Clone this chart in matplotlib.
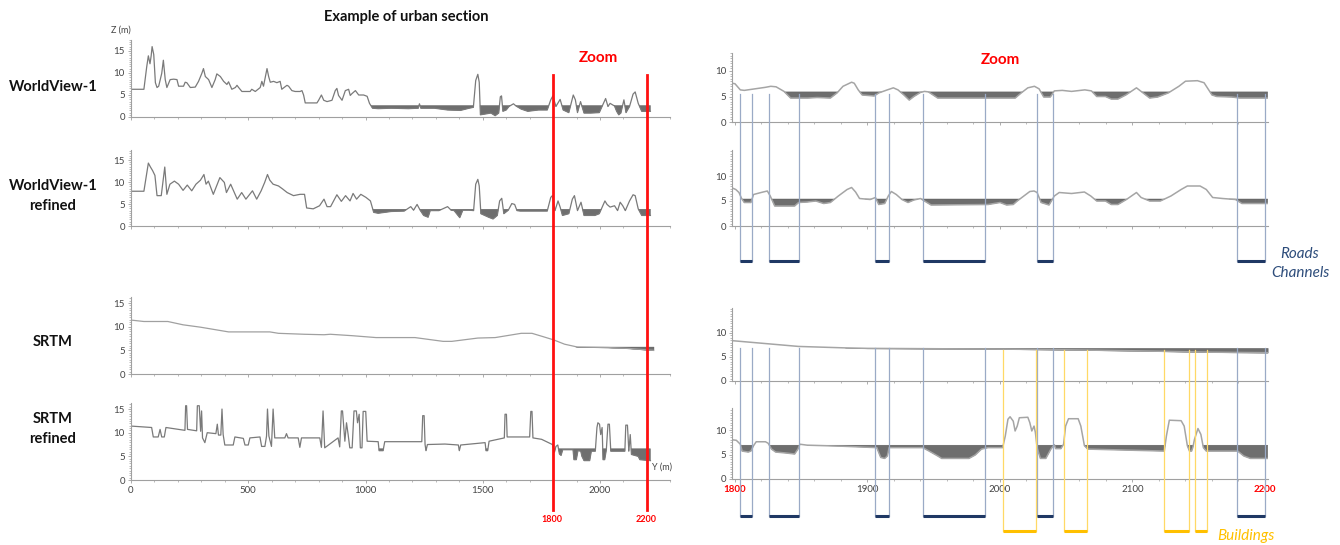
import numpy as np
import matplotlib
matplotlib.use("Agg")
import matplotlib.pyplot as plt
from matplotlib.lines import Line2D
from matplotlib import transforms
from matplotlib.ticker import MultipleLocator

plt.rcParams['font.family'] = ['Lato', 'DejaVu Sans']

# ---- full section profiles (Y in m, Z in m) ----
wv1_y = [0, 55, 67, 74, 81, 86, 90, 97, 104, 111, 118, 131, 138, 146, 153, 167, 182, 196, 203, 224,
         231, 238, 253, 274, 288, 302, 309, 317, 331, 345, 359, 366, 381, 395, 409, 416, 430, 445, 452, 459,
         473, 508, 515, 530, 551, 558, 565, 580, 587, 594, 608, 622, 636, 643, 665, 672, 686, 700, 721, 729,
         736, 743, 793, 800, 812, 822, 836, 857, 871, 878, 885, 900, 914, 928, 935, 942, 957, 971, 992, 1007,
         1017, 1030, 1054, 1109, 1183, 1225, 1230, 1236, 1294, 1350, 1405, 1442, 1460, 1470, 1479, 1485, 1490, 1535, 1553, 1568,
         1575, 1580, 1586, 1600, 1612, 1631, 1642, 1664, 1692, 1738, 1775, 1790, 1799, 1812, 1830, 1843, 1867, 1886, 1895, 1904,
         1917, 1932, 1960, 1997, 2024, 2034, 2043, 2062, 2071, 2080, 2089, 2102, 2111, 2126, 2141, 2150, 2163, 2178, 2215]
wv1_z = [6.3, 6.3, 11.4, 13.9, 12.1, 13.9, 16.0, 14.2, 7.8, 6.7, 7.0, 9.9, 12.9, 8.5, 6.7, 8.5, 8.6, 8.5, 7.0, 7.0,
         7.9, 7.8, 6.7, 6.8, 8.1, 9.9, 11.0, 9.2, 8.5, 6.7, 8.5, 9.8, 9.2, 8.1, 7.4, 8.0, 6.3, 6.7, 7.2, 6.7,
         5.8, 5.8, 6.3, 5.8, 6.7, 8.1, 7.0, 11.0, 9.2, 7.9, 8.1, 7.8, 8.1, 6.3, 7.2, 7.0, 6.0, 5.8, 5.8, 6.0,
         5.0, 3.2, 3.2, 3.8, 5.0, 3.8, 3.5, 3.8, 6.0, 6.5, 4.9, 3.8, 6.0, 6.3, 4.9, 5.3, 6.0, 5.0, 5.0, 4.7,
         3.1, 2.0, 1.9, 2.0, 1.9, 2.0, 3.0, 2.0, 2.0, 1.6, 1.5, 2.0, 2.2, 8.3, 9.7, 7.9, 0.5, 0.9, 0.3, 0.9,
         4.6, 4.8, 1.3, 1.6, 2.4, 3.0, 2.5, 1.8, 1.3, 1.6, 1.6, 3.9, 4.8, 2.4, 4.0, 1.6, 1.0, 5.0, 3.9, 1.0,
         3.5, 0.9, 0.9, 1.0, 4.2, 2.4, 3.1, 2.5, 1.3, 0.5, 0.9, 3.9, 1.0, 2.4, 5.2, 5.7, 3.1, 1.3, 1.3]
wv1_water = 2.6

wv1r_y = [0, 55, 74, 83, 92, 102, 111, 129, 144, 153, 166, 185, 203, 222, 240, 259, 277, 296, 311, 320,
          330, 351, 379, 398, 407, 425, 453, 472, 490, 518, 536, 555, 570, 582, 592, 606, 629, 647, 666, 693,
          721, 740, 749, 777, 804, 823, 836, 851, 878, 897, 915, 934, 947, 962, 980, 1002, 1021, 1035, 1054, 1109,
          1165, 1193, 1205, 1220, 1233, 1248, 1267, 1276, 1313, 1350, 1365, 1378, 1402, 1415, 1442, 1461, 1470, 1479, 1485, 1492,
          1525, 1544, 1562, 1572, 1581, 1590, 1609, 1624, 1636, 1646, 1660, 1775, 1790, 1797, 1808, 1821, 1830, 1840, 1867, 1882,
          1891, 1904, 1919, 1932, 1978, 1997, 2021, 2030, 2043, 2062, 2075, 2086, 2097, 2108, 2126, 2141, 2150, 2163, 2178, 2215]
wv1r_z = [7.9, 7.9, 14.3, 13.4, 12.6, 11.5, 6.9, 6.9, 13.4, 7.2, 9.5, 10.2, 9.5, 8.1, 9.3, 8.0, 9.5, 10.4, 11.7, 9.5,
          10.2, 7.2, 11.0, 9.9, 7.6, 9.5, 6.1, 7.6, 6.1, 8.0, 6.1, 8.0, 9.9, 11.7, 10.4, 9.5, 9.1, 8.4, 7.6, 6.9,
          7.2, 7.2, 4.1, 3.9, 4.6, 6.1, 4.4, 4.4, 7.1, 5.6, 6.9, 5.7, 7.4, 6.1, 7.2, 6.5, 5.7, 3.1, 2.9, 3.3,
          3.4, 4.4, 3.6, 4.9, 3.6, 2.4, 2.0, 3.5, 3.5, 4.4, 3.6, 3.5, 1.9, 3.6, 3.6, 3.5, 9.5, 10.6, 9.1, 2.8,
          2.0, 1.6, 2.4, 5.7, 6.3, 2.8, 3.6, 5.1, 4.9, 3.5, 3.4, 3.4, 6.5, 6.9, 3.5, 5.7, 4.3, 2.4, 2.8, 6.1,
          6.9, 3.5, 5.4, 2.4, 2.4, 2.8, 5.7, 4.9, 4.3, 4.6, 3.5, 5.4, 4.6, 3.5, 5.7, 7.1, 6.9, 3.9, 2.4, 2.4]
wv1r_water = 3.8

srtm_y = [0, 55, 157, 222, 296, 416, 592, 629, 740, 823, 850, 943, 1045, 1211, 1331, 1368, 1479, 1553, 1664, 1710,
          1757, 1803, 1849, 1904, 2034, 2126, 2200, 2228]
srtm_z = [11.4, 11.1, 11.1, 10.4, 9.9, 8.9, 8.9, 8.6, 8.4, 8.3, 8.4, 8.1, 7.7, 7.7, 6.9, 6.9, 7.6, 7.7, 8.6, 8.6,
          7.9, 7.2, 6.3, 5.7, 5.6, 5.4, 5.1, 5.0]
srtm_water = 5.8

srtmr_y = [0, 88, 95, 116, 124, 131, 142, 149, 230, 233, 237, 241, 280, 283, 291, 297, 301, 305, 315, 325,
           362, 368, 373, 383, 388, 393, 400, 436, 443, 479, 486, 500, 507, 550, 557, 571, 578, 582, 588, 599,
           606, 613, 656, 663, 670, 713, 720, 727, 805, 812, 819, 826, 883, 890, 897, 902, 912, 919, 926, 933,
           943, 951, 961, 966, 973, 978, 985, 990, 1001, 1007, 1054, 1058, 1075, 1082, 1240, 1244, 1250, 1254, 1258, 1264,
           1339, 1396, 1400, 1406, 1510, 1514, 1521, 1527, 1592, 1595, 1601, 1604, 1700, 1705, 1710, 1714, 1751, 1797, 1806, 1812,
           1820, 1827, 1834, 1841, 1885, 1889, 1899, 1906, 1918, 1923, 1932, 1956, 1963, 1980, 1987, 1991, 1998, 2003, 2009, 2013,
           2020, 2027, 2034, 2040, 2046, 2106, 2110, 2117, 2123, 2129, 2134, 2163, 2170, 2215]
srtmr_z = [11.4, 11.1, 9.1, 9.1, 10.7, 9.1, 9.1, 11.1, 10.5, 15.7, 15.7, 10.7, 10.4, 15.7, 15.7, 10.3, 14.6, 8.9, 7.9, 10.0,
           9.8, 11.8, 9.5, 9.5, 15.0, 9.6, 7.4, 7.4, 9.1, 8.8, 7.4, 7.4, 8.9, 9.1, 7.1, 7.1, 9.3, 15.0, 9.3, 7.1,
           15.0, 8.9, 8.9, 9.8, 8.9, 8.9, 6.9, 8.9, 8.9, 6.9, 14.6, 6.8, 8.9, 7.0, 14.6, 14.6, 8.2, 12.1, 9.6, 6.8,
           6.8, 14.6, 14.6, 12.1, 13.9, 6.8, 6.8, 14.5, 14.5, 8.2, 8.1, 6.2, 6.2, 8.1, 8.1, 13.6, 13.6, 7.5, 6.2, 7.5,
           7.6, 7.4, 6.2, 7.4, 7.9, 6.2, 6.2, 8.2, 8.9, 13.9, 13.9, 9.1, 9.1, 14.5, 14.5, 8.9, 8.6, 7.5, 5.9, 7.1,
           7.4, 5.5, 5.2, 6.4, 6.4, 4.3, 4.3, 6.2, 6.1, 5.0, 4.1, 4.1, 6.1, 6.1, 11.1, 12.1, 11.8, 9.6, 11.1, 4.3,
           4.3, 6.4, 11.8, 11.8, 6.1, 6.1, 11.6, 11.6, 6.1, 9.6, 5.4, 5.0, 4.3, 4.1]
srtmr_water = 6.6

# ---- zoomed profiles 1800-2200 ----
z_wv1_y = [1798, 1800, 1804, 1807, 1815, 1823, 1827, 1831, 1837, 1842, 1855, 1862, 1872, 1877, 1881.5, 1888, 1890, 1893, 1896, 1905,
           1908.5, 1915, 1919.5, 1923, 1927.5, 1931.5, 1935, 1940, 1943, 1946, 1953, 2011.5, 2016, 2021, 2026, 2029.5, 2033, 2038, 2041, 2047,
           2054, 2064, 2069, 2073, 2079.6, 2084, 2089, 2095, 2103, 2106.5, 2113, 2119, 2127, 2135, 2140, 2149, 2154, 2160, 2163.6, 2175,
           2181, 2202]
z_wv1_z = [7.6, 7.5, 6.3, 6.2, 6.5, 6.8, 7.0, 6.9, 6.0, 4.7, 4.7, 4.8, 4.7, 5.7, 7.0, 7.8, 7.6, 6.3, 5.3, 5.1,
           5.7, 6.3, 6.7, 6.3, 5.3, 4.3, 5.0, 5.8, 6.0, 5.9, 4.7, 4.7, 5.7, 6.7, 7.0, 6.5, 4.9, 4.9, 6.1, 6.2,
           6.0, 6.3, 6.1, 5.0, 5.0, 4.5, 4.5, 5.3, 6.7, 6.0, 4.7, 4.9, 5.7, 7.0, 8.0, 8.1, 7.7, 5.3, 5.0, 4.9,
           4.7, 4.7]
z_wv1_water = 5.9

z_wv1r_y = [1798, 1800.6, 1803, 1805, 1807, 1812, 1814, 1819.7, 1824.4, 1826.6, 1830, 1845, 1848, 1854.5, 1861, 1867, 1872, 1878, 1884.6, 1888,
            1891, 1894, 1902, 1906, 1908.5, 1913, 1915.7, 1918, 1921.7, 1926, 1930.6, 1935, 1940, 1943, 1948, 1991, 2000, 2005, 2010, 2013,
            2018, 2022.5, 2025.7, 2028, 2031, 2037, 2041, 2044.7, 2054, 2063.7, 2068.5, 2073, 2079.6, 2084, 2089, 2095.4, 2103, 2106.5, 2113, 2121,
            2129, 2136.7, 2141.4, 2151, 2155.7, 2160.5, 2168, 2177.7, 2182.6, 2202]
z_wv1r_z = [7.6, 7.3, 6.7, 5.5, 4.7, 4.7, 6.3, 6.7, 7.0, 6.0, 4.0, 4.0, 4.7, 4.8, 5.0, 4.5, 4.7, 6.0, 7.3, 7.7,
            6.8, 5.5, 5.3, 5.7, 4.3, 4.5, 6.0, 6.9, 6.3, 5.3, 4.7, 5.2, 5.5, 5.0, 4.2, 4.3, 4.7, 4.2, 4.3, 5.0,
            6.0, 6.9, 7.0, 6.7, 4.7, 4.2, 6.0, 6.7, 6.5, 6.8, 6.0, 5.0, 5.0, 4.3, 4.3, 5.3, 6.7, 5.7, 5.0, 5.0,
            6.0, 7.3, 8.0, 8.0, 7.3, 5.7, 5.5, 5.3, 4.5, 4.5]
z_wv1r_water = 5.4

z_srtm_y = [1798, 1848, 1883, 1900, 2000, 2050, 2100, 2160, 2202]
z_srtm_z = [8.4, 7.2, 6.9, 6.8, 6.65, 6.5, 6.3, 6.0, 5.9]
z_srtm_water = 6.9

z_srtmr_y = [1798, 1801, 1804, 1805.4, 1810, 1812, 1814, 1816, 1823, 1825, 1827.6, 1830.7, 1838.7, 1845, 1847.5, 1849, 1854.5, 1880, 1907, 1908.5,
             1910, 1913, 1915, 1916.3, 1941.7, 1946.5, 1953, 1956, 1976.6, 1981.3, 1986, 1991, 2002, 2004, 2006, 2007.6, 2010, 2011.4, 2013, 2014.6,
             2021, 2022.5, 2024, 2025.7, 2026.7, 2028, 2030.5, 2034.6, 2038.4, 2041, 2042, 2046, 2048, 2049.5, 2051.7, 2059, 2061, 2063.7, 2066.3, 2124,
             2125.6, 2127.8, 2136.7, 2139, 2141.4, 2143, 2144.6, 2145.5, 2146.8, 2149.4, 2151.6, 2153.5, 2155.7, 2179.4, 2184, 2189, 2202]
z_srtmr_z = [8.0, 7.9, 7.1, 5.7, 5.5, 5.7, 6.8, 7.6, 7.6, 7.3, 6.1, 5.5, 5.3, 5.1, 6.1, 7.1, 6.9, 6.7, 6.4, 5.4,
             4.4, 4.2, 4.7, 6.4, 6.4, 5.7, 4.7, 4.2, 4.2, 4.9, 6.1, 6.4, 6.4, 8.8, 12.2, 12.7, 11.8, 9.8, 10.8, 12.5,
             12.6, 11.5, 9.8, 10.8, 9.5, 6.4, 4.2, 4.2, 6.1, 7.0, 6.2, 6.2, 7.1, 10.8, 12.3, 12.3, 10.8, 6.8, 6.1, 5.7,
             8.8, 12.0, 11.9, 10.8, 6.8, 5.7, 5.7, 6.4, 8.1, 10.3, 9.1, 6.4, 5.7, 5.7, 4.7, 4.2, 4.2]
z_srtmr_water = 6.9

# roads / channels and buildings along the zoomed section (Y from, Y to)
roads = [(1804, 1813), (1826, 1848), (1906, 1916), (1942, 1989), (2028, 2040), (2179, 2200)]
buildings = [(2002.5, 2027), (2048, 2066), (2124, 2143), (2147, 2156)]

row_labels = ["WorldView-1", "WorldView-1\nrefined", "SRTM", "SRTM\nrefined"]
full_ticks = [0, 500, 1000, 1500, 2000]
zoom_ticks = [1800, 1900, 2000, 2100, 2200]

W, H = 1340, 545
fig = plt.figure(figsize=(W / 100, H / 100), dpi=100)


def px_axes(x0, width, y0, ytop):
    # pixel box -> figure fraction
    return fig.add_axes([x0 / W, 1 - y0 / H, width / W, (y0 - ytop) / H])


def style(ax, xlim, ytop, yticks, xmajor, xminor, labels=False):
    ax.set_xlim(*xlim)
    ax.set_ylim(0, ytop)
    ax.patch.set_alpha(0)
    for s in ['top', 'right']:
        ax.spines[s].set_visible(False)
    for s in ['left', 'bottom']:
        ax.spines[s].set_color('#a0a0a0')
        ax.spines[s].set_linewidth(0.8)
    ax.set_yticks(yticks)
    ax.set_xticks(xmajor)
    ax.yaxis.set_minor_locator(MultipleLocator(0.5))
    ax.xaxis.set_minor_locator(MultipleLocator(xminor))
    ax.tick_params(which='major', labelsize=7, color='#a0a0a0', labelcolor='#444444', length=2.5, width=0.6, pad=2)
    ax.tick_params(which='minor', color='#a0a0a0', length=1.5, width=0.5)
    ax.tick_params(axis='x', labelbottom=labels)


def profile(ax, y, z, level, lc, lw):
    y = np.array(y)
    z = np.array(z)
    ax.fill_between(y, z, level, where=z < level, interpolate=True, color='#6e6e6e', lw=0.3, edgecolor='#555555')
    ax.plot(y, z, color=lc, lw=lw, solid_joinstyle='round')


# ---- left column: full section ----
lk = 0.2345  # px per metre
left_specs = [
    (wv1_y, wv1_z, wv1_water, 117, 40),
    (wv1r_y, wv1r_z, wv1r_water, 226, 150),
    (srtm_y, srtm_z, srtm_water, 374, 297),
    (srtmr_y, srtmr_z, srtmr_water, 480, 403),
]
left_axes = []
for i, (y, z, lev, y0, ytop) in enumerate(left_specs):
    ax = px_axes(131, 2300 * lk, y0, ytop)
    pxu = 4.4 if i < 2 else 4.73
    style(ax, (0, 2300), (y0 - ytop) / pxu, [0, 5, 10, 15], full_ticks, 100, labels=(i == 3))
    profile(ax, y, z, lev, '#7a7a7a' if i != 2 else '#a0a0a0', 0.9)
    left_axes.append(ax)

# ---- right column: zoom 1800-2200 ----
rk = 1.325
right_specs = [
    (z_wv1_y, z_wv1_z, z_wv1_water, 122, 53, 5.1),
    (z_wv1r_y, z_wv1r_z, z_wv1r_water, 226, 150, 5.0),
    (z_srtm_y, z_srtm_z, z_srtm_water, 381, 308, 4.8),
    (z_srtmr_y, z_srtmr_z, z_srtmr_water, 479, 408, 4.9),
]
right_axes = []
for i, (y, z, lev, y0, ytop, pxu) in enumerate(right_specs):
    ax = px_axes(735 - 2 * rk, 404 * rk, y0, ytop)
    style(ax, (1798, 2202), (y0 - ytop) / pxu, [0, 5, 10], zoom_ticks, 20, labels=(i == 3))
    profile(ax, y, z, lev, '#a5a5a5', 1.1)
    right_axes.append(ax)

axr = right_axes[3]
tl = axr.set_xticklabels([str(t) for t in zoom_ticks])
for t in (tl[0], tl[-1]):
    t.set_color('#ff0000')
    t.set_fontweight('bold')

# red zoom window lines on the full section
tr_left = transforms.blended_transform_factory(left_axes[3].transData, fig.transFigure)
for yv in (1800, 2200):
    fig.add_artist(Line2D([yv, yv], [1 - 75 / H, 1 - 510 / H], transform=tr_left, color='#ff1010', lw=2.0))
fig.text(552 / W, 1 - 520 / H, "1800", color='#ff0000', fontsize=6.5, fontweight='bold', ha='center', va='center')
fig.text(646 / W, 1 - 520 / H, "2200", color='#ff0000', fontsize=6.5, fontweight='bold', ha='center', va='center')

# road / channel and building markers
tr_right = transforms.blended_transform_factory(axr.transData, fig.transFigure)
road_line = '#9aaac6'
road_mark = '#1f3864'
for a, b in roads:
    for yt, yb in ((94, 261), (348, 516)):
        for yv in (a, b):
            fig.add_artist(Line2D([yv, yv], [1 - yt / H, 1 - yb / H], transform=tr_right, color=road_line, lw=0.9))
        fig.add_artist(Line2D([a, b], [1 - yb / H, 1 - yb / H], transform=tr_right, color=road_mark, lw=2.2,
                              solid_capstyle='butt'))
for a, b in buildings:
    for yv in (a, b):
        fig.add_artist(Line2D([yv, yv], [1 - 350 / H, 1 - 531 / H], transform=tr_right, color='#ffd966', lw=0.9))
    fig.add_artist(Line2D([a, b], [1 - 531 / H, 1 - 531 / H], transform=tr_right, color='#ffc000', lw=2.2,
                          solid_capstyle='butt'))

# texts
fig.text(406 / W, 1 - 17 / H, "Example of urban section", fontsize=10.5, fontweight='bold', ha='center', va='center',
         color='#111111')
fig.text(121 / W, 1 - 30 / H, "Z (m)", fontsize=6.5, ha='center', va='center', color='#444444')
fig.text(662 / W, 1 - 467 / H, "Y (m)", fontsize=6.5, ha='center', va='center', color='#444444')
for lab, yc in zip(row_labels, [87, 196, 342, 429]):
    fig.text(53 / W, 1 - yc / H, lab, fontsize=10.5, fontweight='bold', ha='center', va='center', color='#111111',
             linespacing=1.6)
fig.text(598 / W, 1 - 58 / H, "Zoom", fontsize=11, fontweight='bold', color='#ff0000', ha='center', va='center')
fig.text(1000 / W, 1 - 60 / H, "Zoom", fontsize=11, fontweight='bold', color='#ff0000', ha='center', va='center')
fig.text(1300 / W, 1 - 254 / H, "Roads", fontsize=11, fontstyle='italic', color='#2e4d7b', ha='center', va='center')
fig.text(1300 / W, 1 - 273 / H, "Channels", fontsize=11, fontstyle='italic', color='#2e4d7b', ha='center', va='center')
fig.text(1246 / W, 1 - 536 / H, "Buildings", fontsize=11, fontstyle='italic', color='#ffc000', ha='center', va='center')

fig.savefig("out.png", dpi=100)
